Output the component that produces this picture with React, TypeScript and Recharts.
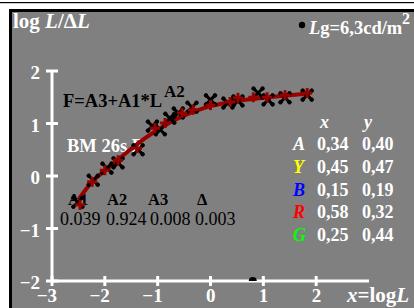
import { ComposedChart, Line, Scatter, XAxis, YAxis } from "recharts";

const SERIF = "'Liberation Serif', 'DejaVu Serif', serif";
const DARK_RED = "#990000";
const GRAY = "#808080";

// curve
const curveX = [-2.5, -2.25, -2, -1.75, -1.5, -1.25, -1, -0.75, -0.5, -0.25, 0, 0.5, 1, 1.5, 1.85];
const curveY = [-0.45, -0.12, 0.1, 0.31, 0.52, 0.71, 0.88, 1.03, 1.15, 1.25, 1.33, 1.43, 1.49, 1.54, 1.57];

// red measured marks
const redX = [-2.47, -2.24, -2.0, -1.75, -1.39, -1.05, -0.86, -0.54, -0.33, 0.0, 0.37, 0.52, 0.81, 1.07, 1.41, 1.83];
const redY = [-0.55, -0.11, 0.11, 0.3, 0.53, 0.91, 1.01, 1.2, 1.26, 1.35, 1.41, 1.49, 1.5, 1.5, 1.54, 1.58];

// black measured marks
const blackX = [-2.51, -2.22, -1.96, -1.75, -1.37, -1.1, -0.95, -0.77, -0.61, -0.35, 0.0, 0.33, 0.52, 0.9, 1.09, 1.41, 1.83];
const blackY = [-0.5, -0.08, 0.15, 0.25, 0.5, 0.95, 0.88, 1.1, 1.2, 1.31, 1.45, 1.39, 1.43, 1.58, 1.45, 1.49, 1.54];

const lgX = [0.8];
const lgY = [-2];

const xTicks = [-3, -2, -1, 0, 1, 2];
const yTicks = [-2, -1, 0, 1, 2];

const coeffNames = ["A1", "A2", "A3", "\u0394"];
const coeffValues = ["0.039", "0.924", "0.008", "0.003"];

const tableRows = [
  { name: "A", color: "#ffffff", x: "0,34", y: "0,40" },
  { name: "Y", color: "#ffff00", x: "0,45", y: "0,47" },
  { name: "B", color: "#0000ff", x: "0,15", y: "0,19" },
  { name: "R", color: "#ff0000", x: "0,58", y: "0,32" },
  { name: "G", color: "#00ff00", x: "0,25", y: "0,44" },
];

const zip = (xs: number[], ys: number[]) => xs.map((x, i) => ({ x, y: ys[i] }));
const curve = zip(curveX, curveY);
const red = zip(redX, redY);
const black = zip(blackX, blackY);
const lg = zip(lgX, lgY);

const fmt = (v: number) => (v < 0 ? "\u2212" + Math.abs(v) : String(v));

function YTick({ x, y, payload }: any) {
  return (
    <g>
      <line x1={x - 6} x2={x + 6} y1={y} y2={y} stroke="#fff" strokeWidth={3} />
      <text x={x - 12} y={y + 8} textAnchor="end" fill="#fff" fontSize={19} fontWeight="bold" fontFamily={SERIF}>
        {fmt(payload.value)}
      </text>
    </g>
  );
}

function XTick({ x, y, payload }: any) {
  return (
    <g>
      <line x1={x} x2={x} y1={y - 5} y2={y + 5} stroke="#fff" strokeWidth={3} />
      <text x={x + 5} y={y + 21} textAnchor="end" fill="#fff" fontSize={19} fontWeight="bold" fontFamily={SERIF}>
        {fmt(payload.value)}
      </text>
    </g>
  );
}

function BlackMark({ cx, cy }: any) {
  const d = 4.5;
  return (
    <g fill="#000" stroke="#000">
      <line x1={cx - d} y1={cy - d} x2={cx + d} y2={cy + d} strokeWidth={3} />
      <line x1={cx - d} y1={cy + d} x2={cx + d} y2={cy - d} strokeWidth={3} />
      <circle cx={cx - d} cy={cy - d} r={1.8} />
      <circle cx={cx + d} cy={cy + d} r={1.8} />
      <circle cx={cx - d} cy={cy + d} r={1.8} />
      <circle cx={cx + d} cy={cy - d} r={1.8} />
    </g>
  );
}

function RedMark({ cx, cy }: any) {
  const d = 5;
  return (
    <g stroke={DARK_RED} strokeWidth={3}>
      <line x1={cx - d} y1={cy} x2={cx + d} y2={cy} />
      <line x1={cx} y1={cy - d} x2={cx} y2={cy + d} />
    </g>
  );
}

function LgDot({ cx, cy }: any) {
  return <circle cx={cx} cy={cy} r={4} fill="#000" />;
}

function Backdrop() {
  const t = { fontFamily: SERIF, fontWeight: "bold" as const };
  return (
    <svg width={414} height={308} style={{ position: "absolute", left: 0, top: 0 }}>
      <rect x={0} y={0} width={414} height={308} fill="#fff" />
      <rect x={0} y={2} width={414} height={1.2} fill="#000" />
      <rect x={9} y={9} width={405} height={299} fill="#000" />
      <rect x={12} y={12} width={402} height={296} fill={GRAY} />

      <text x={13} y={28} fill="#fff" fontSize={21} {...t}>
        log <tspan fontStyle="italic">L</tspan>/{"\u0394"}<tspan fontStyle="italic">L</tspan>
      </text>

      <circle cx={302} cy={25} r={3.2} fill="#000" />
      <text x={309} y={34} fill="#fff" fontSize={18.5} {...t}>
        <tspan fontStyle="italic">L</tspan>g=6,3cd/m
      </text>
      <text x={402} y={24} fill="#fff" fontSize={16} {...t}>2</text>

      <text x={63} y={107} fill="#000" fontSize={18.5} {...t}>F=A3+A1*L</text>
      <text x={164} y={97} fill="#000" fontSize={17} {...t}>A2</text>

      <text x={67} y={152} fill="#fff" fontSize={18.5} {...t}>BM 26s F</text>

      {coeffNames.map((n, i) => (
        <text key={n} x={[68, 107, 148, 197][i]} y={205} fill="#000" fontSize={16.5} {...t}>{n}</text>
      ))}
      {coeffValues.map((v, i) => (
        <text key={v} x={[60, 106, 150, 195][i]} y={225} fill="#000" fontSize={18} fontFamily={SERIF}>{v}</text>
      ))}

      <text x={320} y={128} fill="#fff" fontSize={18} fontStyle="italic" {...t}>x</text>
      <text x={364} y={128} fill="#fff" fontSize={18} fontStyle="italic" {...t}>y</text>
      {tableRows.map((r, i) => (
        <g key={r.name}>
          <text x={293} y={150 + i * 22.8} fill={r.color} fontSize={18} fontStyle="italic" {...t}>{r.name}</text>
          <text x={317} y={150 + i * 22.8} fill="#fff" fontSize={18} {...t}>{r.x}</text>
          <text x={362} y={150 + i * 22.8} fill="#fff" fontSize={18} {...t}>{r.y}</text>
        </g>
      ))}

      <text x={347} y={302} fill="#fff" fontSize={21} {...t}>
        <tspan fontStyle="italic">x</tspan>=log<tspan fontStyle="italic">L</tspan>
      </text>
    </svg>
  );
}

export default function App() {
  return (
    <div style={{ position: "absolute", left: 0, top: 0, width: 414, height: 308, overflow: "hidden" }}>
      <Backdrop />
      <div style={{ position: "absolute", left: 0, top: 0 }}>
        <ComposedChart width={414} height={308} margin={{ top: 71, right: 45, left: 12, bottom: 7 }}>
          <XAxis
            type="number"
            dataKey="x"
            domain={[-3, 3]}
            ticks={xTicks}
            height={20}
            tickSize={0}
            tickMargin={0}
            interval={0}
            axisLine={{ stroke: "#fff", strokeWidth: 3 }}
            tick={<XTick />}
            allowDataOverflow
          />
          <YAxis
            type="number"
            dataKey="y"
            domain={[-2, 2]}
            ticks={yTicks}
            width={40}
            tickSize={0}
            tickMargin={0}
            interval={0}
            axisLine={{ stroke: "#fff", strokeWidth: 3 }}
            tick={<YTick />}
            allowDataOverflow
          />
          <Scatter data={black} dataKey="y" shape={<BlackMark />} isAnimationActive={false} />
          <Line data={curve} dataKey="y" type="monotone" stroke={DARK_RED} strokeWidth={4} dot={false} isAnimationActive={false} />
          <Scatter data={red} dataKey="y" shape={<RedMark />} isAnimationActive={false} />
          <Scatter data={lg} dataKey="y" shape={<LgDot />} isAnimationActive={false} />
        </ComposedChart>
      </div>
    </div>
  );
}
